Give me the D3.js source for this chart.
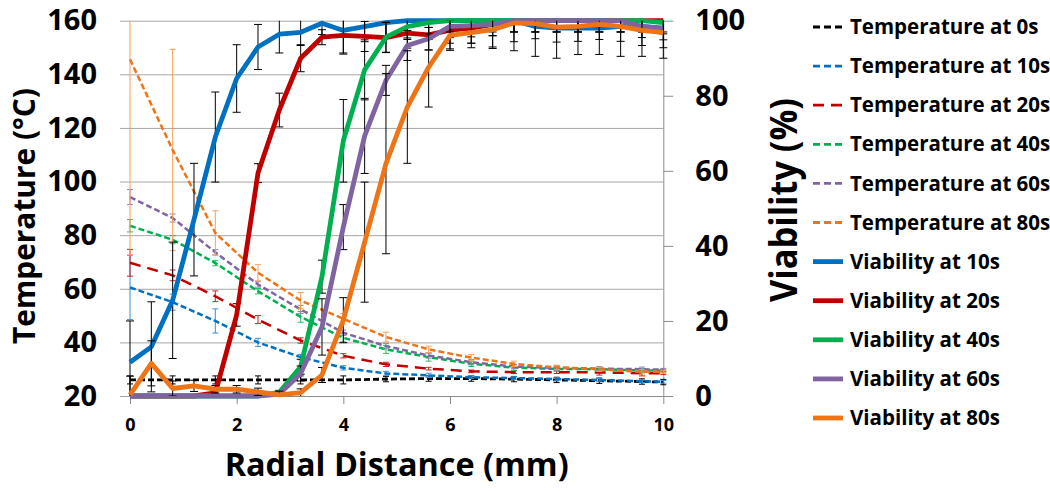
<!DOCTYPE html>
<html>
<head>
<meta charset="utf-8">
<script src="https://cdnjs.cloudflare.com/ajax/libs/d3/7.8.5/d3.min.js"></script>
<style>
body { margin: 0; background: #fff; }
text { font-family: "Open Sans", sans-serif; font-weight: bold; fill: #000; }
</style>
</head>
<body>
<script>
//radial distance of the readings (mm)
var distTemp = [0, 0.8, 1.6, 2.4, 3.2, 4.0, 4.8, 5.6, 6.4, 7.2, 8.0, 8.8, 9.6, 10];
var distViab = [0, 0.4, 0.8, 1.2, 1.6, 2.0, 2.4, 2.8, 3.2, 3.6, 4.0, 4.4, 4.8, 5.2, 5.6, 6.0, 6.4, 6.8, 7.2, 7.6, 8.0, 8.4, 8.8, 9.2, 9.6, 10];

//temperature (degC) and error, one list per heating time
var temp0  = [26, 26, 26, 26, 26, 26, 26.3, 26.5, 26.5, 26.3, 26, 25.7, 25.4, 25.2];
var temp10 = [60.5, 55, 48, 40, 34.5, 30.5, 28.4, 27.7, 27, 26.7, 26.3, 26, 25.5, 25.3];
var temp20 = [69.7, 65, 57.2, 48.5, 40.7, 35, 31.8, 30.2, 29.2, 28.9, 28.9, 28.8, 28.5, 28.5];
var temp40 = [83.5, 78.3, 69.6, 59.1, 49.5, 41.7, 37.4, 34.5, 32, 30.6, 30.1, 30, 29.5, 29.5];
var temp60 = [94.2, 86.4, 73.6, 61.6, 52.3, 43.6, 38.6, 35.1, 32.6, 31, 30.5, 30.2, 30, 29.8];
var temp80 = [145.6, 111.8, 80.8, 66, 55.6, 48.8, 42, 37.4, 34.3, 32, 30.7, 30, 29, 29];

var errTemp0  = [1.5, 1.5, 1.5, 1.5, 1.5, 1.5, 1, 1, 1, 1, 1, 1, 1, 1];
var errTemp10 = [12, 3, 4.5, 1.5, 1, 0.8, 0.8, 0.8, 0.5, 0.5, 0.5, 0.5, 0.5, 0.5];
var errTemp20 = [5, 2, 2, 1.5, 1, 0.8, 0.8, 0.5, 0.5, 0.5, 0.5, 1, 1, 0.5];
var errTemp40 = [2.3, 1.5, 1, 1, 2, 1.5, 1.5, 1.5, 1, 1, 0.8, 0.8, 0.8, 0.5];
var errTemp60 = [2.8, 1.5, 1, 1, 1.5, 1, 1, 1, 1, 0.8, 0.8, 0.8, 0.8, 0.5];
var errTemp80 = [73, 37.5, 8.3, 3, 3, 2, 1.8, 1.2, 1.2, 1, 0.8, 0.8, 0.8, 0.5];

//viability (%) and error
var viab10 = [9, 13.1, 25.5, 47, 69, 84.6, 93, 96.4, 96.9, 99.3, 97.4, 98.4, 99.5, 100, 100, 100, 100, 100, 100, 98.5, 98, 98, 98, 98.5, 98.5, 98];
var viab20 = [0, 0, 0, 0, 0.8, 21.6, 59.4, 76.2, 90, 95.6, 96.1, 95.8, 95.5, 96.7, 96.2, 97.5, 98, 99, 100, 100, 100, 100, 100, 100, 100, 100];
var viab40 = [0, 0, 0, 0, 0, 0, 0, 1, 7.8, 31.8, 68, 86.9, 95.6, 98.4, 99.5, 100, 100, 100, 100, 100, 100, 100, 100, 100, 100, 99.5];
var viab60 = [0, 0, 0, 0, 0, 0, 0, 0.5, 6, 18.4, 45, 69.3, 84.1, 93.4, 95.2, 98.5, 98.7, 99, 100, 100, 100, 100, 100, 100, 98.5, 97.9];
var viab80 = [0.3, 8.7, 2, 2.7, 1.8, 1.8, 1.1, 0.3, 0.9, 5.6, 20.2, 41, 61.9, 77, 87.6, 96.1, 96.8, 97.6, 99.4, 99.2, 98.3, 98.5, 99, 98.5, 97.4, 96.8];

var errViab10 = [11, 12, 15.5, 15, 12, 9, 6, 5, 3.5, 3, 6, 4, 4, 5, 5, 6, 6, 7, 8, 8, 8, 7, 7, 8, 8, 8];
var errViab20 = [0, 0, 0, 0, 1, 3, 2.5, 4.5, 3.6, 2, 5, 4, 4, 4, 4, 5, 4, 3, 3, 3, 3, 3, 3, 3, 3, 3];
var errViab40 = [0, 0, 0, 0, 0, 0, 0, 0.5, 2, 4.4, 11, 8, 4, 3, 3, 3, 3, 3, 3, 3, 3, 3, 3, 3, 3, 3];
var errViab60 = [0, 0, 0, 0, 0, 0, 0, 0.5, 2, 7.5, 6, 10, 4, 4, 3, 3, 3, 3, 3, 3, 3, 3, 3, 3, 3, 3];
var errViab80 = [5, 6, 2, 1.5, 1, 1, 1, 1, 1, 2, 6, 16, 24, 15, 10.6, 4, 4, 5, 5, 4, 4, 4, 4, 4, 4, 4];

//tick labels
var tempTicks = [20, 40, 60, 80, 100, 120, 140, 160];
var viabTicks = [0, 20, 40, 60, 80, 100];
var distTicks = [0, 2, 4, 6, 8, 10];

var legendLabels = ["Temperature at 0s", "Temperature at 10s", "Temperature at 20s", "Temperature at 40s",
    "Temperature at 60s", "Temperature at 80s", "Viability at 10s", "Viability at 20s",
    "Viability at 40s", "Viability at 60s", "Viability at 80s"];

//margins
var margin = {top: 20.7, right: 386.7, bottom: 95, left: 130},
    width = 1050 - margin.left - margin.right,
    height = 491 - margin.top - margin.bottom;

var colors = ["#000000", "#0070C0", "#C00000", "#00B050", "#8064A2", "#ED7417"];
var errColors = ["#000000", "#3a8fd8", "#d02020", "#20c060", "#9a80bb", "#f7a05a"];
var dashes = ["6,3", "6,3", "11,7", "6,3", "6,3", "6,3"];

var tempSeries = [
    {x: distTemp, y: temp0, e: errTemp0},
    {x: distTemp, y: temp10, e: errTemp10},
    {x: distTemp, y: temp20, e: errTemp20},
    {x: distTemp, y: temp40, e: errTemp40},
    {x: distTemp, y: temp60, e: errTemp60},
    {x: distTemp, y: temp80, e: errTemp80}
];
var viabSeries = [
    {x: distViab, y: viab10, e: errViab10},
    {x: distViab, y: viab20, e: errViab20},
    {x: distViab, y: viab40, e: errViab40},
    {x: distViab, y: viab60, e: errViab60},
    {x: distViab, y: viab80, e: errViab80}
];

var svg = d3.select("body").append("svg")
    .attr("width", 1050)
    .attr("height", 491);

var g = svg.append("g")
    .attr("transform", "translate(" + margin.left + "," + margin.top + ")");

var x = d3.scaleLinear().domain([0, 10]).range([0, width]);
var yT = d3.scaleLinear().domain([20, 160]).range([height, 0]);
var yV = d3.scaleLinear().domain([0, 100]).range([height, 0]);

svg.append("clipPath").attr("id", "clip")
    .append("rect")
    .attr("x", -20).attr("y", 0)
    .attr("width", width + 40).attr("height", height);

//gridlines
g.append("g")
    .call(d3.axisLeft(yT).tickValues(tempTicks).tickSize(-width).tickFormat(""))
    .call(function(a) { a.select(".domain").remove(); })
    .selectAll("line").attr("stroke", "#a6a6a6");

//axes
var left = g.append("g")
    .call(d3.axisLeft(yT).tickValues(tempTicks).tickSize(10).tickPadding(23));
left.select(".domain").remove();
left.selectAll("line").attr("stroke", "#a6a6a6");
left.selectAll("text").style("font-size", "29px");

var right = g.append("g")
    .attr("transform", "translate(" + width + ",0)")
    .call(d3.axisRight(yV).tickValues(viabTicks).tickSize(10).tickSizeOuter(0).tickPadding(22));
right.select(".domain").attr("stroke", "#8c8c8c");
right.selectAll("line").attr("stroke", "#8c8c8c");
right.selectAll("text").style("font-size", "29px");

var bottom = g.append("g")
    .attr("transform", "translate(0," + height + ")")
    .call(d3.axisBottom(x).tickValues(distTicks).tickSize(8).tickSizeOuter(0).tickPadding(14));
bottom.select(".domain").attr("stroke", "#8c8c8c");
bottom.selectAll("line").attr("stroke", "#8c8c8c");
bottom.selectAll("text").style("font-size", "18px");

//error bars for one series
var errorBars = function(s, yScale, color, cap) {
    var idx = d3.range(s.y.length).filter(function(i) { return s.e[i] > 0; });
    var eg = g.append("g").attr("clip-path", "url(#clip)")
        .attr("stroke", color).attr("stroke-width", 1);
    eg.selectAll(".bar").data(idx).enter().append("line")
        .attr("x1", function(i) { return x(s.x[i]); })
        .attr("x2", function(i) { return x(s.x[i]); })
        .attr("y1", function(i) { return yScale(s.y[i] - s.e[i]); })
        .attr("y2", function(i) { return yScale(s.y[i] + s.e[i]); });
    [-1, 1].forEach(function(sign) {
        eg.selectAll(".cap" + sign).data(idx).enter().append("line")
            .attr("x1", function(i) { return x(s.x[i]) - cap; })
            .attr("x2", function(i) { return x(s.x[i]) + cap; })
            .attr("y1", function(i) { return yScale(s.y[i] + sign * s.e[i]); })
            .attr("y2", function(i) { return yScale(s.y[i] + sign * s.e[i]); });
    });
};

var lineFor = function(s, yScale) {
    return d3.line()
        .x(function(d, i) { return x(s.x[i]); })
        .y(function(d) { return yScale(d); })(s.y);
};

tempSeries.forEach(function(s, k) {
    errorBars(s, yT, errColors[k], 3);
    g.append("path")
        .attr("d", lineFor(s, yT))
        .attr("fill", "none")
        .attr("stroke", colors[k])
        .attr("stroke-width", k == 0 ? 2.8 : 2.5)
        .attr("stroke-dasharray", dashes[k]);
});

viabSeries.forEach(function(s, k) {
    errorBars(s, yV, "#000", 4);
    g.append("path")
        .attr("d", lineFor(s, yV))
        .attr("fill", "none")
        .attr("stroke", colors[k + 1])
        .attr("stroke-width", 4.8)
        .attr("stroke-linejoin", "round");
});

//axis titles
svg.append("text")
    .attr("x", margin.left + width / 2)
    .attr("y", 476)
    .attr("text-anchor", "middle")
    .attr("textLength", 344)
    .attr("lengthAdjust", "spacingAndGlyphs")
    .style("font-size", "33px")
    .text("Radial Distance (mm)");

svg.append("text")
    .attr("transform", "translate(35,216) rotate(-90)")
    .attr("text-anchor", "middle")
    .attr("textLength", 256)
    .attr("lengthAdjust", "spacingAndGlyphs")
    .style("font-size", "31px")
    .text("Temperature (\u00B0C)");

svg.append("text")
    .attr("transform", "translate(797,200) rotate(-90)")
    .attr("text-anchor", "middle")
    .attr("textLength", 204)
    .attr("lengthAdjust", "spacingAndGlyphs")
    .style("font-size", "37px")
    .text("Viability (%)");

//legend
var legend = svg.append("g");
legendLabels.forEach(function(label, i) {
    var ly = 27 + i * 39.1;
    var k = i < 6 ? i : i - 5;
    legend.append("line")
        .attr("x1", 813).attr("x2", 843)
        .attr("y1", ly).attr("y2", ly)
        .attr("stroke", colors[k])
        .attr("stroke-width", i < 6 ? 2.8 : 4.8)
        .attr("stroke-dasharray", i < 6 ? (i == 2 ? "11,7" : "7,4") : null);
    legend.append("text")
        .attr("x", 850).attr("y", ly)
        .attr("dy", "0.35em")
        .style("font-size", "20.5px")
        .text(label);
});
</script>
</body>
</html>
